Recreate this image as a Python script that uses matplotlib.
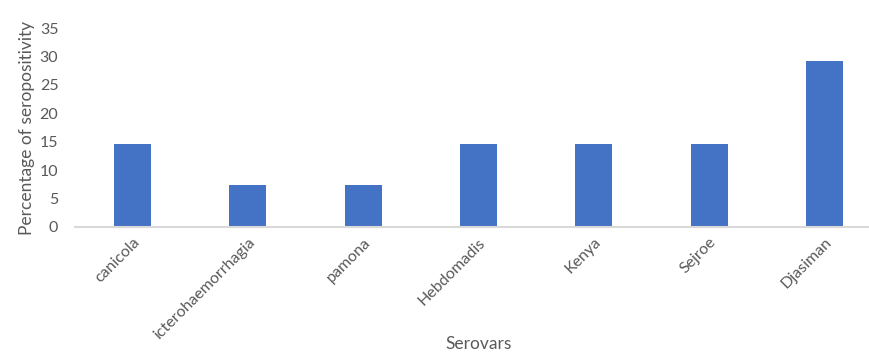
import matplotlib.pyplot as plt

plt.rcParams['font.family'] = ['Lato', 'DejaVu Sans']

serovars = ["canicola", "icterohaemorrhagia", "pamona", "Hebdomadis",
            "Kenya", "Sejroe", "Djasiman"]
seropositivity = [14.6, 7.3, 7.3, 14.6, 14.6, 14.6, 29.2]
yticks = [0, 5, 10, 15, 20, 25, 30, 35]

fig = plt.figure(figsize=(8.69, 3.55), dpi=100)
ax = fig.add_axes([75 / 869, 128 / 355, 807 / 869, 199 / 355])

x = range(len(serovars))
ax.bar(x, seropositivity, width=0.32, color="#4472C4", zorder=2)

ax.set_xlim(-0.5, len(serovars) - 0.5)
ax.set_ylim(0, 35)
ax.set_yticks(yticks)
ax.set_xticks(list(x))
ax.set_xticklabels(serovars, rotation=45, ha="right", rotation_mode="anchor")

for s in ["top", "right", "left"]:
    ax.spines[s].set_visible(False)
ax.spines["bottom"].set_color("#D9D9D9")
ax.spines["bottom"].set_linewidth(1.5)
ax.tick_params(axis="both", length=0, labelsize=11.5, colors="#595959")
ax.tick_params(axis="y", pad=12)
ax.tick_params(axis="x", pad=6)

ax.set_ylabel("Percentage of seropositivity", fontsize=12.5, color="#595959", labelpad=3)
ax.set_xlabel("Serovars", fontsize=12.5, color="#595959", va="center")
ax.xaxis.set_label_coords(0.5, (11 - 128) / 199)

fig.savefig("out.png", dpi=100)
